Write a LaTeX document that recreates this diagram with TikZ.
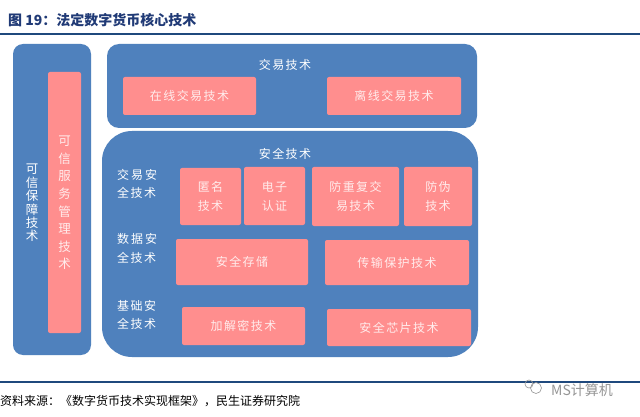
\documentclass[tikz,border=0pt]{standalone}
\usepackage{fontspec}
\usetikzlibrary{fit}
\newfontfamily\cjk[LetterSpace=12]{Noto Sans CJK SC}
\newfontfamily\cjkplain{Noto Sans CJK SC}
\definecolor{boxblue}{RGB}{79,129,189}
\definecolor{boxpink}{RGB}{255,142,142}
\definecolor{pinktext}{RGB}{255,236,236}
\definecolor{titleblue}{RGB}{32,58,118}
\definecolor{rulecol}{RGB}{31,73,125}
\definecolor{wmgray}{RGB}{150,150,150}
\tikzset{
  bluebox/.style={fill=boxblue, inner sep=0pt},
  pinkbox/.style={fill=boxpink, rounded corners=2pt, inner sep=0pt, text=pinktext, align=center,
    font=\cjk\fontsize{12}{19}\selectfont},
  bluetext/.style={text=white, inner sep=0pt, align=center, font=\cjk\fontsize{12}{18}\selectfont},
  rowlabel/.style={text=white, inner sep=0pt, align=left, anchor=west, font=\cjk\fontsize{12}{18.5}\selectfont},
  rulestyle/.style={draw=rulecol, line width=1.2pt},
  ptext/.style={text=pinktext, inner sep=0pt, align=center, font=\cjk\fontsize{12}{19}\selectfont}
}
\begin{document}
\begin{tikzpicture}[x=1pt,y=-1pt]
\useasboundingbox[fill=white] (0,0) rectangle (640,417);

% title and rules
\node[anchor=west, inner sep=0pt, text=titleblue, font=\cjkplain\bfseries\fontsize{14}{16}\selectfont] (title) at (8,20) {图 19：法定数字货币核心技术};
\coordinate (r1a) at (0,34); \coordinate (r1b) at (640,34);
\draw[rulestyle] (r1a) -- (r1b);
\coordinate (r2a) at (0,382); \coordinate (r2b) at (640,382);
\draw[rulestyle] (r2a) -- (r2b);
\node[anchor=west, inner sep=0pt, text=black, font=\cjkplain\fontsize{12}{14}\selectfont] (src) at (0,401) {资料来源：《数字货币技术实现框架》，民生证券研究院};

% watermark
\node[anchor=west, inner sep=0pt, text=wmgray, font=\cjkplain\fontsize{14}{16}\selectfont] (wm) at (551,390) {MS计算机};
\node[draw=wmgray, circle, minimum size=11pt, inner sep=0pt, line width=0.6pt] (wmi1) at (536,388) {};
\node[draw=wmgray, circle, minimum size=8pt, inner sep=0pt, line width=0.6pt] (wmi2) at (529,384) {};

% left column
\node[bluebox, rounded corners=10pt, fit={(13,44) (91,355)}] (left) {};
\node[pinkbox, fit={(48,72) (81,333)}] (tsm) {};
\node[text=pinktext, inner sep=0pt, align=center, font=\cjkplain\fontsize{12.5}{17.6}\selectfont] (tsmt) at (64.5,203) {可\\信\\服\\务\\管\\理\\技\\术};
\node[text=white, inner sep=0pt, align=center, font=\cjkplain\fontsize{12.5}{13.4}\selectfont] (leftt) at (32,203) {可\\信\\保\\障\\技\\术};

% top block
\node[bluebox, rounded corners=12pt, fit={(107,44) (477,128)}] (trade) {};
\node[bluetext] (tradet) at (285,65) {交易技术};
\node[pinkbox, fit={(123,77) (256,115)}] (online) {};
\node[ptext] at (online.center) {在线交易技术};
\node[pinkbox, fit={(327,77) (461,115)}] (offline) {};
\node[ptext] at (offline.center) {离线交易技术};

% bottom block
\node[bluebox, rounded corners=30pt, fit={(102,131) (478,357)}] (sec) {};
\node[bluetext] (sect) at (285,154) {安全技术};

\node[rowlabel] (row1) at (117,184) {交\,易\,安\\全技术};
\node[rowlabel] (row2) at (117,248.5) {数\,据\,安\\全技术};
\node[rowlabel] (row3) at (117,315) {基础安\\全技术};

\node[pinkbox, fit={(180,168) (241,225)}] (anon) {};
\node[ptext] at (anon.center) {匿名\\技术};
\node[pinkbox, fit={(244,167) (305,225)}] (ecert) {};
\node[ptext] at (ecert.center) {电子\\认证};
\node[pinkbox, fit={(312,167) (399,226)}] (replay) {};
\node[ptext] at (replay.center) {防重复交\\易技术};
\node[pinkbox, fit={(404,167) (472,226)}] (anti) {};
\node[ptext] at (anti.center) {防伪\\技术};

\node[pinkbox, fit={(176,239) (308,285)}] (store) {};
\node[ptext] at (store.center) {安全存储};
\node[pinkbox, fit={(325,240) (469,285)}] (trans) {};
\node[ptext] at (trans.center) {传输保护技术};

\node[pinkbox, fit={(182,307) (305,345)}] (crypt) {};
\node[ptext] at (crypt.center) {加解密技术};
\node[pinkbox, fit={(327,309) (471,346)}] (chip) {};
\node[ptext] at (chip.center) {安全芯片技术};
\end{tikzpicture}
\end{document}
